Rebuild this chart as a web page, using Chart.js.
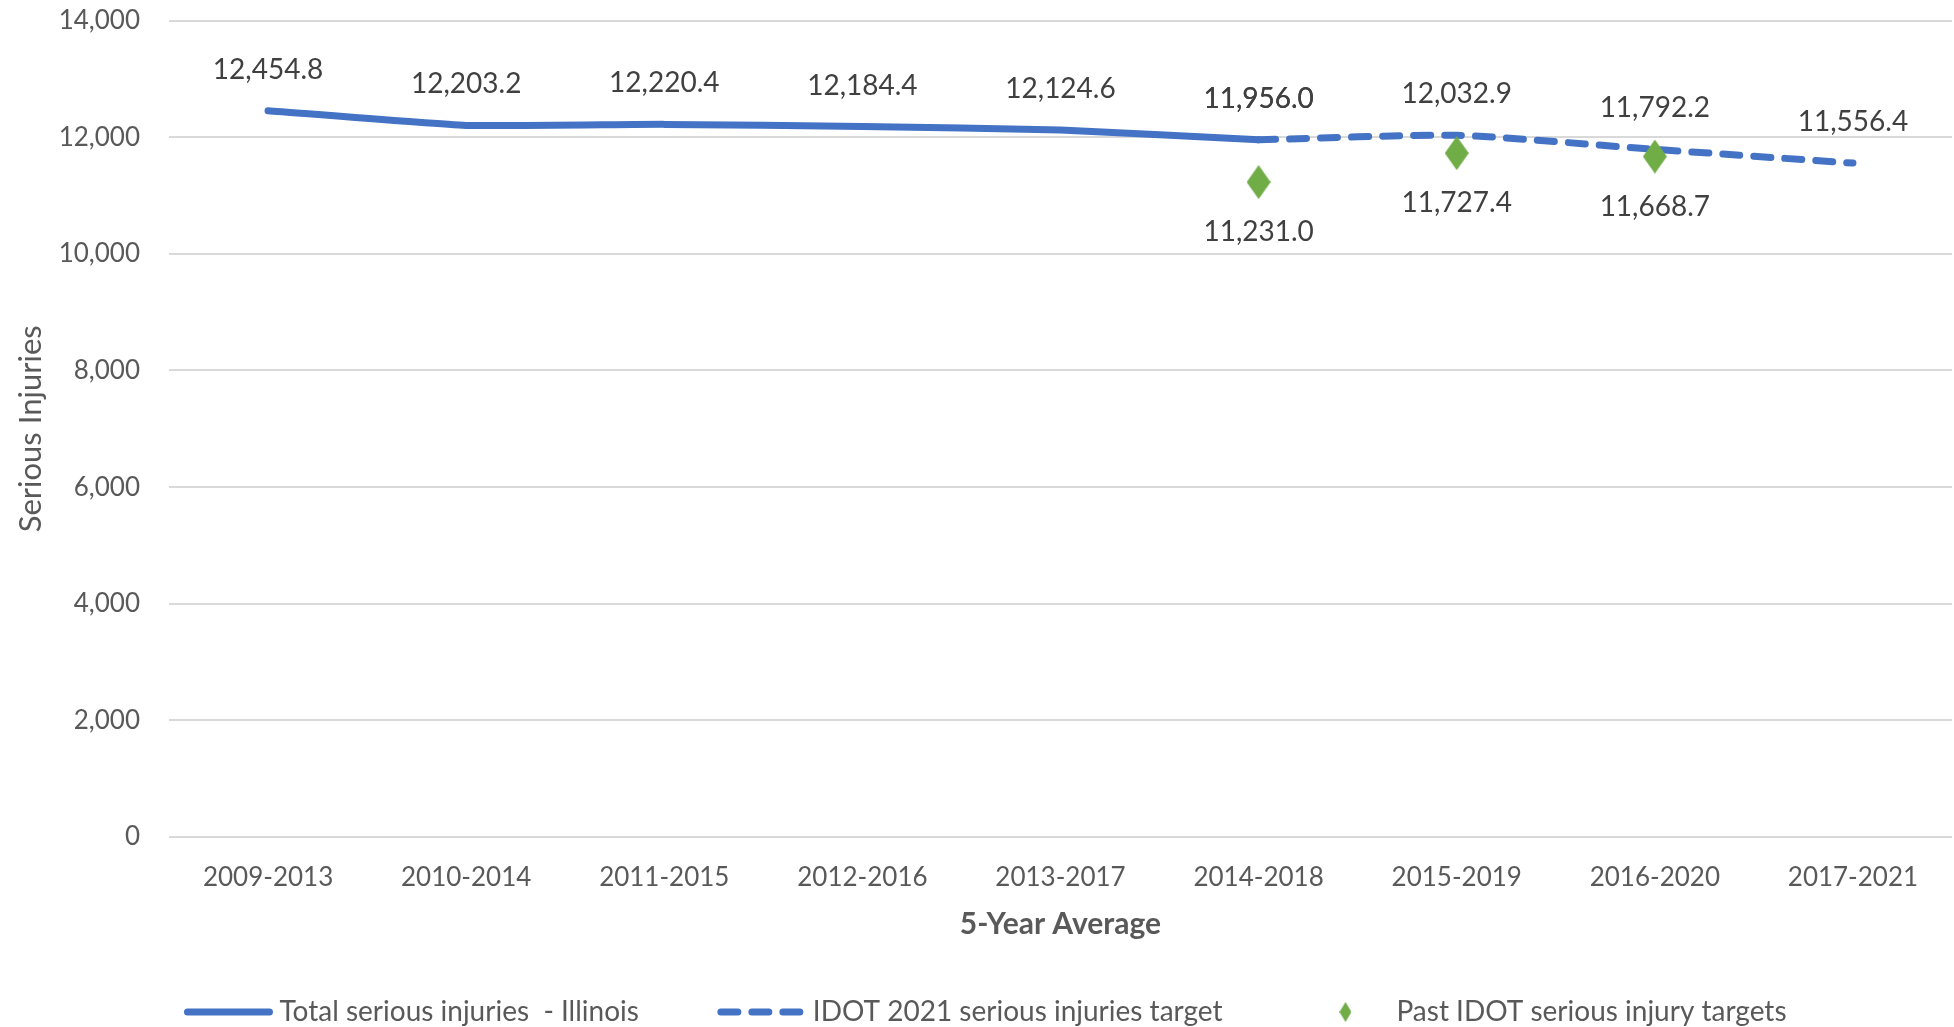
<!DOCTYPE html>
<html>
<head>
<meta charset="utf-8">
<script src="https://cdn.jsdelivr.net/npm/chart.js@4.4.1/dist/chart.umd.min.js"></script>
<style>
  html, body { margin: 0; padding: 0; background: #ffffff; overflow: hidden; }
  #wrap { width: 1954px; height: 1027px; }
  canvas { display: block; }
</style>
</head>
<body>
<div id="wrap"><canvas id="chart" width="1954" height="1027"></canvas></div>
<script>
// chart values
const categories = ['2009-2013', '2010-2014', '2011-2015', '2012-2016', '2013-2017',
    '2014-2018', '2015-2019', '2016-2020', '2017-2021'];
const totalInjuries = [12454.8, 12203.2, 12220.4, 12184.4, 12124.6, 11956.0, null, null, null];
const targetLine = [null, null, null, null, null, 11956.0, 12032.9, 11792.2, 11556.4];
const pastTargets = [null, null, null, null, null, 11231.0, 11727.4, 11668.7, null];
const yTicks = [0, 2000, 4000, 6000, 8000, 10000, 12000, 14000];

const blue = '#4472C4'
const green = '#70AD47'
const grey = '#595959'
const fontName = 'Lato, "Open Sans", sans-serif'

function makeDiamond(w, h) {
    const c = document.createElement('canvas');
    c.width = w;
    c.height = h;
    const g = c.getContext('2d');
    g.fillStyle = green;
    g.beginPath();
    g.moveTo(w / 2, 0);
    g.lineTo(w, h / 2);
    g.lineTo(w / 2, h);
    g.lineTo(0, h / 2);
    g.closePath();
    g.fill();
    return c;
}
const bigDiamond = makeDiamond(24, 34);
const smallDiamond = makeDiamond(12, 20);

function fmt(v) {
    return v.toLocaleString('en-US', { minimumFractionDigits: 1, maximumFractionDigits: 1 });
}

// value labels next to each point
const valueLabels = {
    id: 'valueLabels',
    afterDatasetsDraw(chart) {
        const ctx = chart.ctx;
        ctx.save();
        ctx.font = '28px ' + fontName;
        ctx.fillStyle = '#404040';
        ctx.textAlign = 'center';
        ctx.textBaseline = 'middle';
        chart.data.datasets.forEach((ds, i) => {
            const meta = chart.getDatasetMeta(i);
            meta.data.forEach((pt, j) => {
                const v = ds.data[j];
                if (v === null || v === undefined) return;
                const dy = ds.labelAt === 'below' ? 50 : -41;
                ctx.fillText(fmt(v), pt.x, pt.y + dy);
            });
        });
        ctx.restore();
    }
};

// legend row at the bottom
const legendRow = {
    id: 'legendRow',
    afterDraw(chart) {
        const ctx = chart.ctx;
        const sample = 90, gap = 6, spacing = 78;
        const y = chart.height - 15;
        ctx.save();
        ctx.font = '28px ' + fontName;
        ctx.textBaseline = 'middle';
        const items = chart.data.datasets.map(ds => ({ ds, w: ctx.measureText(ds.label).width }));
        let total = 0;
        items.forEach((it, i) => { total += sample + gap + it.w + (i ? spacing : 0); });
        let x = (chart.width - total) / 2 + 8;
        items.forEach((it) => {
            const ds = it.ds;
            if (ds.legendKind === 'marker') {
                ctx.drawImage(smallDiamond, x + sample / 2 - 6, y - 10);
            } else {
                ctx.strokeStyle = ds.borderColor;
                ctx.lineWidth = ds.borderWidth;
                ctx.lineCap = ds.borderCapStyle || 'butt';
                ctx.setLineDash(ds.borderDash || []);
                ctx.beginPath();
                ctx.moveTo(x + 4, y);
                ctx.lineTo(x + sample - 4, y);
                ctx.stroke();
                ctx.setLineDash([]);
            }
            ctx.fillStyle = grey;
            ctx.fillText(ds.label, x + sample + gap, y);
            x += sample + gap + it.w + spacing;
        });
        ctx.restore();
    }
};

document.addEventListener('DOMContentLoaded', function () {
    const dados = {
        labels: categories,
        datasets: [{
            label: 'Total serious injuries  - Illinois',
            data: totalInjuries,
            borderColor: blue,
            borderWidth: 7,
            borderCapStyle: 'round',
            pointRadius: 0,
            tension: 0.15,
            labelAt: 'above',
            order: 2
        }, {
            label: 'IDOT 2021 serious injuries target',
            data: targetLine,
            borderColor: blue,
            borderWidth: 7,
            borderDash: [17, 14],
            borderCapStyle: 'round',
            pointRadius: 0,
            tension: 0.2,
            labelAt: 'above',
            order: 2
        }, {
            label: 'Past IDOT serious injury targets',
            data: pastTargets,
            showLine: false,
            pointStyle: bigDiamond,
            pointRadius: 12,
            pointHoverRadius: 12,
            labelAt: 'below',
            legendKind: 'marker',
            order: 1
        }]
    };

    const opcoes = {
        responsive: false,
        animation: false,
        layout: { autoPadding: false, padding: { left: 0, right: 2, top: 0, bottom: 40 } },
        plugins: {
            legend: { display: false },
            tooltip: { enabled: false }
        },
        scales: {
            x: {
                offset: true,
                grid: { display: false },
                border: { display: false },
                ticks: { color: grey, font: { family: fontName, size: 26 }, padding: 17 },
                title: {
                    display: true,
                    text: '5-Year Average',
                    color: grey,
                    font: { family: fontName, size: 30, weight: 'bold' },
                    padding: { top: 0, bottom: 45 }
                },
                afterFit(scale) {
                    scale.height = 150;
                    scale.paddingLeft = 0;
                    scale.paddingRight = 0;
                }
            },
            y: {
                min: 0,
                max: 14000,
                afterBuildTicks(scale) { scale.ticks = yTicks.map(v => ({ value: v })); },
                grid: { color: '#D9D9D9', lineWidth: 2, drawTicks: true, tickLength: 24, tickColor: 'rgba(0,0,0,0)' },
                border: { display: false },
                ticks: {
                    color: grey,
                    font: { family: fontName, size: 26 },
                    padding: 5,
                    callback: v => v.toLocaleString('en-US')
                },
                title: {
                    display: true,
                    text: 'Serious Injuries',
                    color: grey,
                    font: { family: fontName, size: 31 },
                    padding: { top: 12, bottom: 0 }
                },
                afterFit(scale) { scale.width = 169; }
            }
        }
    };

    const ctx = document.getElementById('chart').getContext('2d');
    new Chart(ctx, { type: 'line', data: dados, options: opcoes, plugins: [valueLabels, legendRow] });
});
</script>
</body>
</html>
